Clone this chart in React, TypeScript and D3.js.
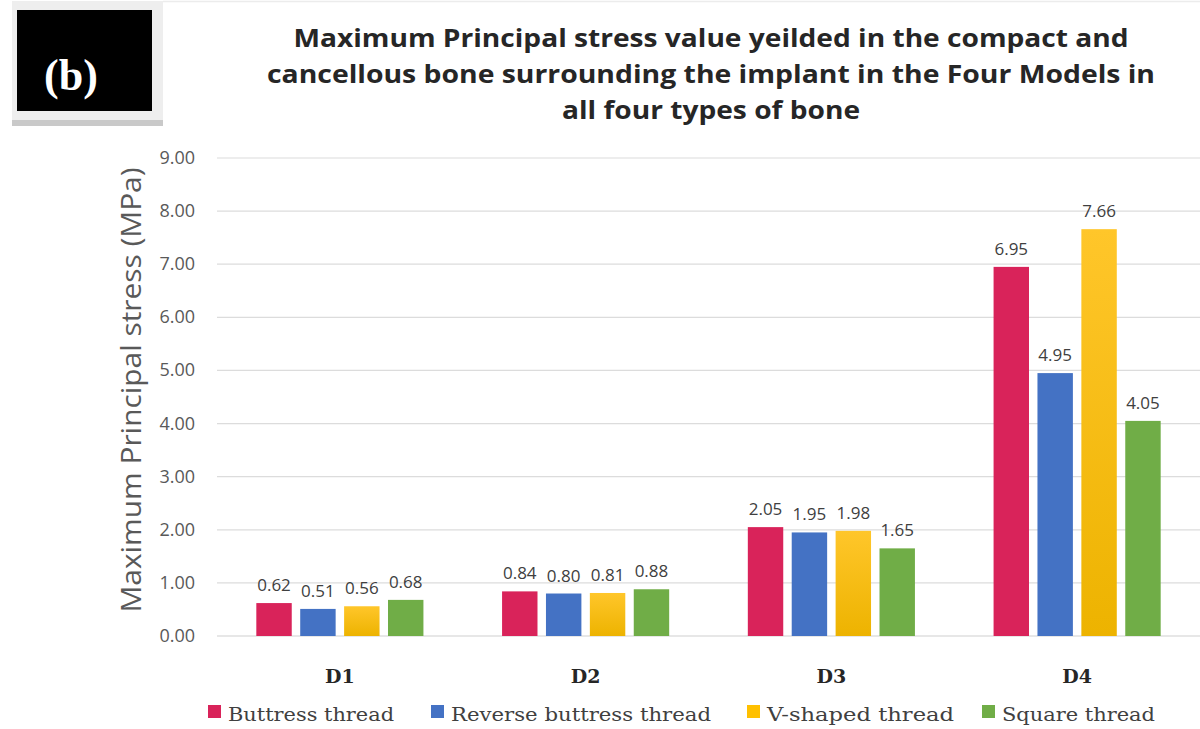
import React from "react";
import * as d3 from "d3";

const categories = ["D1", "D2", "D3", "D4"];
const seriesNames = ["Buttress thread", "Reverse buttress thread", "V-shaped thread", "Square thread"];
const buttress = [0.62, 0.84, 2.05, 6.95];
const reverseButtress = [0.51, 0.80, 1.95, 4.95];
const vShaped = [0.56, 0.81, 1.98, 7.66];
const square = [0.68, 0.88, 1.65, 4.05];
const yTicks = [0, 1, 2, 3, 4, 5, 6, 7, 8, 9];
const titleLines = [
  "Maximum Principal stress value yeilded in the compact and",
  "cancellous bone surrounding the implant in the Four Models in",
  "all four types of bone",
];
const yAxisTitle = "Maximum Principal stress (MPa)";
const panelLabel = "(b)";

const colors = ["#D9235A", "#4472C4", "#FFC000", "#70AD47"];

export default function App() {
  const W = 1200, H = 729;
  const left = 217, right = 1200, top = 158, bottom = 636;
  const seriesValues = [buttress, reverseButtress, vShaped, square];

  const x0 = d3.scaleBand<string>().domain(categories).range([left, right]).padding(0);
  const groupW = x0.bandwidth() * 0.68;
  const x1 = d3.scaleBand<number>().domain([0, 1, 2, 3]).range([0, groupW]).paddingInner(0.193).paddingOuter(0);
  const y = d3.scaleLinear().domain([0, 9]).range([bottom, top]);

  const legendX = [208, 431, 747, 982];
  const legendTextW = [166, 260, 187, 153];
  const titleY = [47, 83, 119];
  const titleW = [835, 888, 298];

  return (
    <svg width={W} height={H} style={{ position: "absolute", left: 0, top: 0, background: "#fff" }}>
      <defs>
        <linearGradient id="ygrad" x1="0" y1="0" x2="0" y2="1">
          <stop offset="0" stopColor="#FFC62A" />
          <stop offset="1" stopColor="#EDB300" />
        </linearGradient>
      </defs>
      <rect x={0} y={0} width={W} height={H} fill="#fff" />
      {/* panel label */}
      <line x1={163} x2={1200} y1={1.5} y2={1.5} stroke="#ececec" strokeWidth={1.5} />
      <rect x={12} y={1} width={151} height={123} fill="#eeeeee" />
      <rect x={12} y={120} width={151} height={6} fill="#c9c9c9" />
      <rect x={17} y={10} width={135} height={101} fill="#000" />
      <text x={71} y={90} textAnchor="middle" fill="#fff" fontFamily="'Liberation Serif', serif" fontWeight="bold" fontSize={44}>
        {panelLabel}
      </text>

      {/* title */}
      {titleLines.map((t, i) => (
        <text key={i} x={711 - titleW[i] / 2} y={titleY[i]} fill="#262626"
          fontFamily="'Open Sans', sans-serif" fontWeight="bold" fontSize={25}
          textLength={titleW[i]} lengthAdjust="spacingAndGlyphs">
          {t}
        </text>
      ))}

      {/* gridlines and ticks */}
      {yTicks.map((t) => (
        <g key={t}>
          <line x1={left} x2={right} y1={y(t)} y2={y(t)} stroke={t === 0 ? "#d0d0d0" : "#dcdcdc"} strokeWidth={1.2} />
          <text x={195} y={y(t) + 6} textAnchor="end" fill="#595959" fontFamily="'Open Sans', sans-serif" fontSize={18}>
            {t.toFixed(2)}
          </text>
        </g>
      ))}

      {/* y axis title */}
      <text transform={`translate(141, ${(168 + 613) / 2}) rotate(-90)`} x={-222} fill="#595959"
        fontFamily="'Open Sans', sans-serif" fontSize={27} textLength={445} lengthAdjust="spacingAndGlyphs">
        {yAxisTitle}
      </text>

      {/* bars */}
      {categories.map((c, ci) => {
        const gx = (x0(c) as number) + (x0.bandwidth() - groupW) / 2;
        return (
          <g key={c}>
            {seriesValues.map((vals, si) => {
              const v = vals[ci];
              const bx = gx + (x1(si) as number);
              return (
                <g key={si}>
                  <rect x={bx} y={y(v)} width={x1.bandwidth()} height={bottom - y(v)}
                    fill={si === 2 ? "url(#ygrad)" : colors[si]} />
                  <text x={bx + x1.bandwidth() / 2} y={y(v) - 12} textAnchor="middle" fill="#404040"
                    fontFamily="'Open Sans', sans-serif" fontSize={17}>
                    {v.toFixed(2)}
                  </text>
                </g>
              );
            })}
            <text x={(x0(c) as number) + x0.bandwidth() / 2} y={683} textAnchor="middle" fill="#262626"
              fontFamily="'DejaVu Serif', serif" fontWeight="bold" fontSize={19}>
              {c}
            </text>
          </g>
        );
      })}

      {/* legend */}
      {seriesNames.map((n, i) => (
        <g key={n}>
          <rect x={legendX[i]} y={705} width={13} height={13} fill={colors[i]} />
          <text x={legendX[i] + 20} y={721} fill="#404040" fontFamily="'DejaVu Serif', serif" fontSize={19}
            textLength={legendTextW[i]} lengthAdjust="spacingAndGlyphs">
            {n}
          </text>
        </g>
      ))}
    </svg>
  );
}
